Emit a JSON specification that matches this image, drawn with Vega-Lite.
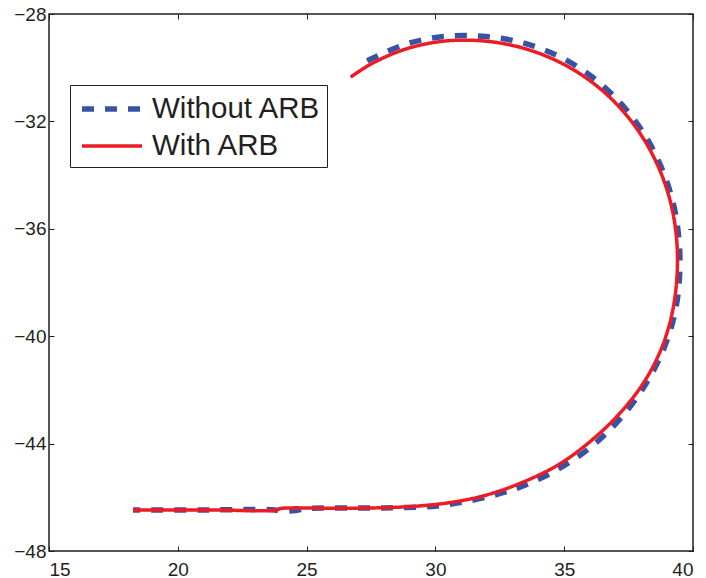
{
  "$schema": "https://vega.github.io/schema/vega-lite/v6.json",
  "width": 644,
  "height": 537,
  "autosize": {"type": "none"},
  "padding": {"left": 49, "top": 14, "right": 13, "bottom": 27},
  "background": "white",
  "config": {
    "view": {"stroke": "#231f20", "strokeWidth": 1.5},
    "font": "Liberation Sans",
    "axis": {
      "grid": false,
      "domain": false,
      "tickColor": "#231f20",
      "tickSize": -5,
      "tickWidth": 1,
      "labelFont": "Liberation Sans",
      "labelFontSize": 19,
      "labelColor": "#231f20",
      "title": null
    },
    "legend": {
      "orient": "none",
      "legendX": 21,
      "legendY": 71,
      "strokeColor": "#231f20",
      "fillColor": "white",
      "padding": 6,
      "labelFont": "Liberation Sans",
      "labelFontSize": 29.5,
      "labelColor": "#231f20",
      "symbolType": "M-2,0H2",
      "symbolSize": 900,
      "symbolOffset": 18,
      "rowPadding": 5,
      "labelOffset": 22,
      "labelLimit": 400
    }
  },
  "datasets": {
    "curves": [
      {"series": "Without ARB", "i": 1, "x": 27.35, "y": -29.74},
      {"series": "Without ARB", "i": 2, "x": 28.86, "y": -29.12},
      {"series": "Without ARB", "i": 3, "x": 30.32, "y": -28.84},
      {"series": "Without ARB", "i": 4, "x": 31.82, "y": -28.83},
      {"series": "Without ARB", "i": 5, "x": 33.30, "y": -29.05},
      {"series": "Without ARB", "i": 6, "x": 34.72, "y": -29.54},
      {"series": "Without ARB", "i": 7, "x": 36.01, "y": -30.29},
      {"series": "Without ARB", "i": 8, "x": 37.12, "y": -31.25},
      {"series": "Without ARB", "i": 9, "x": 38.04, "y": -32.37},
      {"series": "Without ARB", "i": 10, "x": 38.73, "y": -33.62},
      {"series": "Without ARB", "i": 11, "x": 39.21, "y": -34.96},
      {"series": "Without ARB", "i": 12, "x": 39.45, "y": -36.35},
      {"series": "Without ARB", "i": 13, "x": 39.48, "y": -37.75},
      {"series": "Without ARB", "i": 14, "x": 39.29, "y": -39.17},
      {"series": "Without ARB", "i": 15, "x": 38.84, "y": -40.53},
      {"series": "Without ARB", "i": 16, "x": 38.15, "y": -41.81},
      {"series": "Without ARB", "i": 17, "x": 37.26, "y": -42.98},
      {"series": "Without ARB", "i": 18, "x": 36.16, "y": -44.03},
      {"series": "Without ARB", "i": 19, "x": 34.88, "y": -44.89},
      {"series": "Without ARB", "i": 20, "x": 33.45, "y": -45.56},
      {"series": "Without ARB", "i": 21, "x": 32.37, "y": -45.90},
      {"series": "Without ARB", "i": 22, "x": 31.07, "y": -46.18},
      {"series": "Without ARB", "i": 23, "x": 30.06, "y": -46.32},
      {"series": "Without ARB", "i": 24, "x": 28.82, "y": -46.38},
      {"series": "Without ARB", "i": 25, "x": 27.58, "y": -46.40},
      {"series": "Without ARB", "i": 26, "x": 24.98, "y": -46.42},
      {"series": "Without ARB", "i": 27, "x": 24.59, "y": -46.49},
      {"series": "Without ARB", "i": 28, "x": 23.97, "y": -46.51},
      {"series": "Without ARB", "i": 29, "x": 23.77, "y": -46.47},
      {"series": "Without ARB", "i": 30, "x": 21.00, "y": -46.47},
      {"series": "Without ARB", "i": 31, "x": 18.26, "y": -46.47},
      {"series": "With ARB", "i": 1, "x": 26.71, "y": -30.35},
      {"series": "With ARB", "i": 2, "x": 27.56, "y": -29.83},
      {"series": "With ARB", "i": 3, "x": 28.90, "y": -29.29},
      {"series": "With ARB", "i": 4, "x": 30.34, "y": -29.01},
      {"series": "With ARB", "i": 5, "x": 31.81, "y": -29.00},
      {"series": "With ARB", "i": 6, "x": 33.25, "y": -29.23},
      {"series": "With ARB", "i": 7, "x": 34.64, "y": -29.71},
      {"series": "With ARB", "i": 8, "x": 35.91, "y": -30.42},
      {"series": "With ARB", "i": 9, "x": 37.02, "y": -31.34},
      {"series": "With ARB", "i": 10, "x": 37.94, "y": -32.44},
      {"series": "With ARB", "i": 11, "x": 38.64, "y": -33.66},
      {"series": "With ARB", "i": 12, "x": 39.12, "y": -34.98},
      {"series": "With ARB", "i": 13, "x": 39.36, "y": -36.35},
      {"series": "With ARB", "i": 14, "x": 39.38, "y": -37.75},
      {"series": "With ARB", "i": 15, "x": 39.19, "y": -39.14},
      {"series": "With ARB", "i": 16, "x": 38.76, "y": -40.49},
      {"series": "With ARB", "i": 17, "x": 38.07, "y": -41.75},
      {"series": "With ARB", "i": 18, "x": 37.15, "y": -42.88},
      {"series": "With ARB", "i": 19, "x": 36.06, "y": -43.88},
      {"series": "With ARB", "i": 20, "x": 34.82, "y": -44.76},
      {"series": "With ARB", "i": 21, "x": 33.41, "y": -45.43},
      {"series": "With ARB", "i": 22, "x": 32.00, "y": -45.91},
      {"series": "With ARB", "i": 23, "x": 30.68, "y": -46.18},
      {"series": "With ARB", "i": 24, "x": 29.40, "y": -46.32},
      {"series": "With ARB", "i": 25, "x": 28.24, "y": -46.38},
      {"series": "With ARB", "i": 26, "x": 26.30, "y": -46.41},
      {"series": "With ARB", "i": 27, "x": 23.97, "y": -46.42},
      {"series": "With ARB", "i": 28, "x": 23.85, "y": -46.47},
      {"series": "With ARB", "i": 29, "x": 21.00, "y": -46.47},
      {"series": "With ARB", "i": 30, "x": 18.26, "y": -46.47}
    ]
  },
  "layer": [
    {
      "data": {"name": "curves"},
      "mark": {"type": "line", "interpolate": "catmull-rom", "strokeCap": "butt"},
      "encoding": {
        "x": {
          "field": "x",
          "type": "quantitative",
          "scale": {"domain": [15, 40], "nice": false, "zero": false},
          "axis": {"orient": "bottom", "values": [15, 20, 25, 30, 35, 40], "labelPadding": 14}
        },
        "y": {
          "field": "y",
          "type": "quantitative",
          "scale": {"domain": [-48, -28], "nice": false, "zero": false},
          "axis": {"orient": "left", "values": [-48, -44, -40, -36, -32, -28], "labelPadding": 8}
        },
        "color": {
          "field": "series",
          "type": "nominal",
          "scale": {"domain": ["Without ARB", "With ARB"], "range": ["#3953a4", "#ed1c24"]},
          "legend": {"title": null}
        },
        "strokeDash": {
          "field": "series",
          "type": "nominal",
          "scale": {"domain": ["Without ARB", "With ARB"], "range": [[12, 11], [1, 0]]},
          "legend": {"title": null}
        },
        "strokeWidth": {
          "field": "series",
          "type": "nominal",
          "scale": {"domain": ["Without ARB", "With ARB"], "range": [5.5, 3.5]},
          "legend": {"title": null}
        },
        "order": {"field": "i", "type": "quantitative"}
      }
    },
    {
      "data": {"name": "curves"},
      "mark": {"type": "point", "opacity": 0},
      "encoding": {
        "x": {
          "field": "x",
          "type": "quantitative",
          "axis": {"orient": "top", "values": [15, 20, 25, 30, 35, 40], "labels": false}
        },
        "y": {
          "field": "y",
          "type": "quantitative",
          "axis": {"orient": "right", "values": [-48, -44, -40, -36, -32, -28], "labels": false}
        }
      }
    }
  ],
  "resolve": {"axis": {"x": "independent", "y": "independent"}}
}
